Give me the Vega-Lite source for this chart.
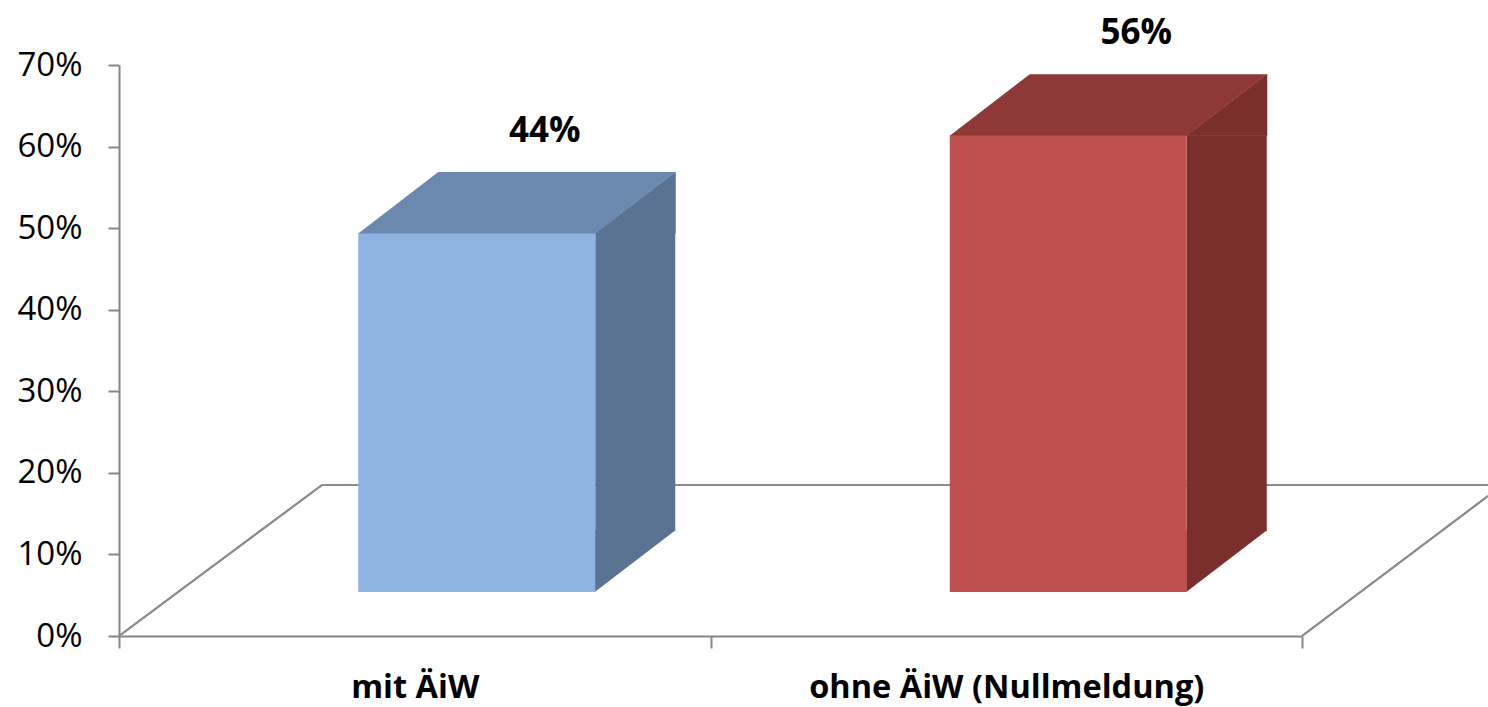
{
  "$schema": "https://vega.github.io/schema/vega-lite/v6.json",
  "width": 1183,
  "height": 571,
  "autosize": {"type": "none"},
  "padding": {"left": 119, "top": 65, "right": 186, "bottom": 71},
  "background": "white",
  "config": {
    "view": {"stroke": null},
    "font": "Open Sans",
    "axisX": {"tickBand": "extent", "labelFontSize": 32.5, "labelFontWeight": "bold", "labelBaseline": "alphabetic", "labelPadding": 49, "labelAngle": 0, "labelLimit": 0, "tickSize": 12, "domainColor": "#868686", "tickColor": "#868686", "domainWidth": 2, "tickWidth": 2, "labelColor": "#000000", "labelFont": "Open Sans", "grid": false},
    "axisY": {"labelFontSize": 33, "labelPadding": 26, "tickSize": 11, "domainColor": "#868686", "tickColor": "#868686", "domainWidth": 2, "tickWidth": 2, "labelColor": "#000000", "labelFont": "Open Sans", "grid": false}
  },
  "data": {"values": [
    {"cat": "mit ÄiW", "value": 0.44},
    {"cat": "ohne ÄiW (Nullmeldung)", "value": 0.56}
  ]},
  "layer": [
    {
      "mark": {"type": "rule", "color": "#8c8c8c", "strokeWidth": 2, "xOffset": -92.75, "x2Offset": 481.75, "yOffset": -151},
      "encoding": {
        "x": {"datum": "mit ÄiW", "type": "nominal", "title": null},
        "x2": {"datum": "ohne ÄiW (Nullmeldung)"},
        "y": {"datum": 0, "type": "quantitative", "title": null}
      }
    },
    {
      "mark": {"type": "rule", "color": "#8c8c8c", "strokeWidth": 2, "xOffset": -295.75, "x2Offset": -92.75, "y2Offset": -151},
      "encoding": {
        "x": {"datum": "mit ÄiW", "type": "nominal", "title": null},
        "x2": {"datum": "mit ÄiW"},
        "y": {"datum": 0, "type": "quantitative", "title": null},
        "y2": {"datum": 0}
      }
    },
    {
      "mark": {"type": "rule", "color": "#8c8c8c", "strokeWidth": 2, "xOffset": 295.75, "x2Offset": 481.75, "y2Offset": -140},
      "encoding": {
        "x": {"datum": "ohne ÄiW (Nullmeldung)", "type": "nominal", "title": null},
        "x2": {"datum": "ohne ÄiW (Nullmeldung)"},
        "y": {"datum": 0, "type": "quantitative", "title": null},
        "y2": {"datum": 0}
      }
    },
    {
      "mark": {"type": "bar", "width": 80, "xOffset": 220.5, "yOffset": -44, "y2Offset": -105},
      "encoding": {
        "x": {"field": "cat", "type": "nominal", "sort": null, "title": null, "scale": {"paddingInner": 0, "paddingOuter": 0}},
        "y": {"field": "value", "type": "quantitative", "title": null, "scale": {"domain": [0, 0.7], "nice": false}},
        "y2": {"datum": 0},
        "fill": {"condition": {"test": "datum.cat === 'mit ÄiW'", "value": "#5a7393"}, "value": "#7a2f2d"}
      }
    },
    {
      "mark": {"type": "point", "shape": "M118,0.5L199,-61.5L199,0.5Z", "size": 4, "filled": true, "opacity": 1, "strokeWidth": 0, "xOffset": 62, "yOffset": -44},
      "encoding": {
        "x": {"field": "cat", "type": "nominal", "sort": null, "title": null},
        "y": {"field": "value", "type": "quantitative", "title": null},
        "fill": {"condition": {"test": "datum.cat === 'mit ÄiW'", "value": "#5a7393"}, "value": "#7a2f2d"}
      }
    },
    {
      "mark": {"type": "point", "shape": "M118,-62L199,-62L118,0Z", "size": 4, "filled": true, "opacity": 1, "strokeWidth": 0, "xOffset": 62, "yOffset": -44},
      "encoding": {
        "x": {"field": "cat", "type": "nominal", "sort": null, "title": null},
        "y": {"datum": 0, "type": "quantitative", "title": null},
        "fill": {"condition": {"test": "datum.cat === 'mit ÄiW'", "value": "#5a7393"}, "value": "#7a2f2d"}
      }
    },
    {
      "mark": {"type": "bar", "width": 237, "xOffset": 62, "yOffset": -44, "y2Offset": -44},
      "encoding": {
        "x": {"field": "cat", "type": "nominal", "sort": null, "title": null},
        "y": {"field": "value", "type": "quantitative", "title": null, "axis": {"values": [0, 0.1, 0.2, 0.3, 0.4, 0.5, 0.6, 0.7], "format": ".0%"}},
        "fill": {"condition": {"test": "datum.cat === 'mit ÄiW'", "value": "#8db4e2"}, "value": "#c0504d"}
      }
    },
    {
      "mark": {"type": "point", "shape": "M-118.5,0.5L-38.5,-61L198.5,-61L118.5,0.5Z", "size": 4, "filled": true, "opacity": 1, "strokeWidth": 0, "xOffset": 62, "yOffset": -44},
      "encoding": {
        "x": {"field": "cat", "type": "nominal", "sort": null, "title": null},
        "y": {"field": "value", "type": "quantitative", "title": null},
        "fill": {"condition": {"test": "datum.cat === 'mit ÄiW'", "value": "#6b89ae"}, "value": "#8e3937"}
      }
    },
    {
      "mark": {"type": "text", "fontSize": 35, "fontWeight": "bold", "font": "Open Sans", "color": "#000000", "align": "center", "baseline": "middle", "xOffset": 130, "yOffset": -146},
      "encoding": {
        "x": {"field": "cat", "type": "nominal", "sort": null, "title": null},
        "y": {"field": "value", "type": "quantitative", "title": null},
        "text": {"field": "value", "type": "quantitative", "format": ".0%"}
      }
    }
  ]
}
